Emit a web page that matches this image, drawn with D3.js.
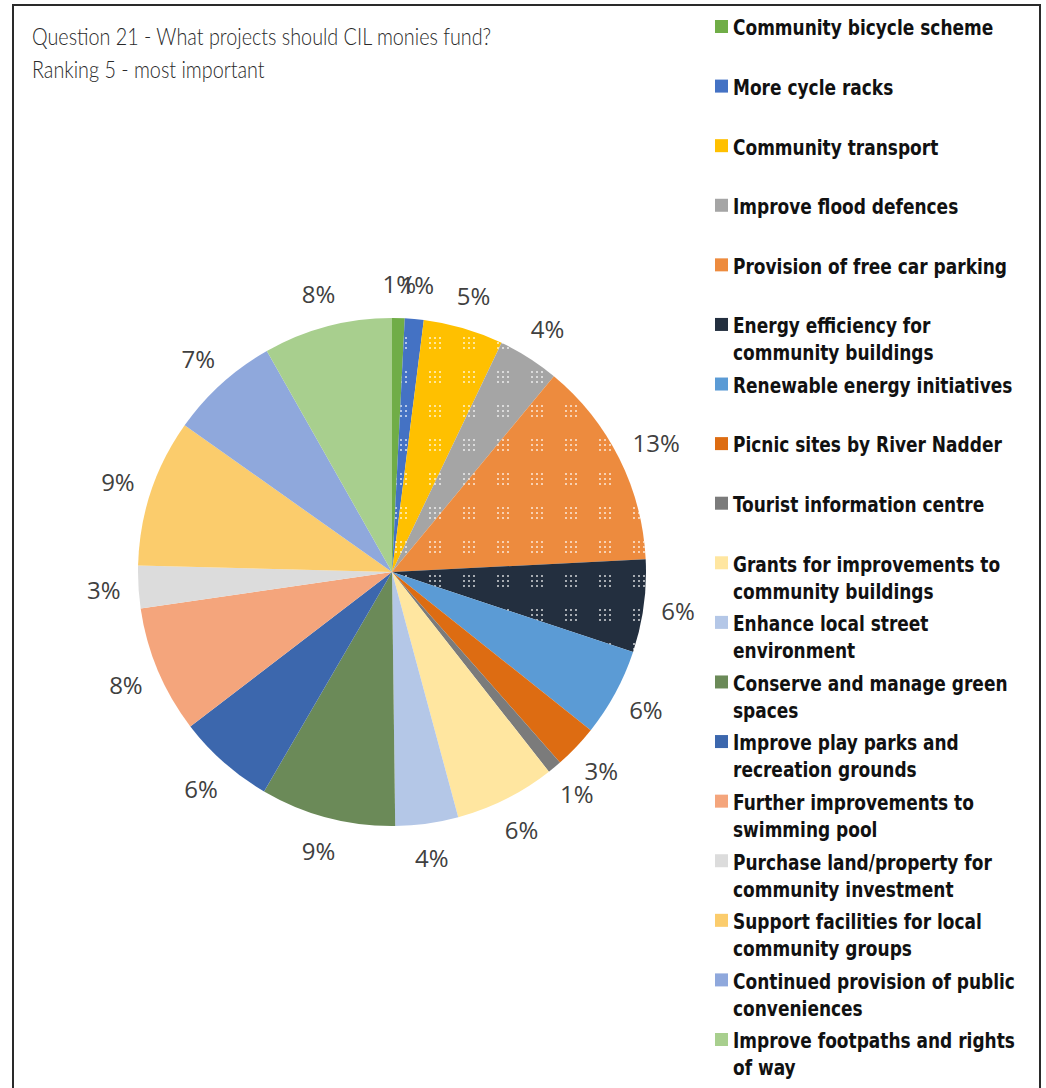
<!DOCTYPE html>
<html>
<head>
<meta charset="utf-8">
<script src="https://cdn.jsdelivr.net/npm/d3@7"></script>
<style>
  body { margin: 0; background: #fff; }
  .legend text { font-family: "DejaVu Sans", "Open Sans", sans-serif; font-stretch: condensed; font-weight: bold; fill: #111; }
  .pct { font-family: "Open Sans", sans-serif; fill: #404040; }
  .title { font-family: "Lato", sans-serif; font-weight: 300; fill: #2a2a2a; }
</style>
</head>
<body>
<div class="chart"></div>
<script>
// slice order = clockwise from 12 o'clock, as in the original chart
const categories = [
  "Community bicycle scheme",
  "More cycle racks",
  "Community transport",
  "Improve flood defences",
  "Provision of free car parking",
  "Energy efficiency for community buildings",
  "Renewable energy initiatives",
  "Picnic sites by River Nadder",
  "Tourist information centre",
  "Grants for improvements to community buildings",
  "Enhance local street environment",
  "Conserve and manage green spaces",
  "Improve play parks and recreation grounds",
  "Further improvements to swimming pool",
  "Purchase land/property for community investment",
  "Support facilities for local community groups",
  "Continued provision of public conveniences",
  "Improve footpaths and rights of way"
];

// share of responses (%); labels round to the printed %
const values = [0.8, 1.2, 5.1, 3.9, 13.2, 5.9, 5.6, 2.8, 0.9, 6.4, 4.0, 8.6, 6.2, 8.1, 2.7, 9.4, 7.0, 8.2];

const colors = [
  "#70ad47", "#4472c4", "#ffc000", "#a5a5a5", "#ed8b3e", "#232f3f",
  "#5b9bd5", "#dd6c12", "#7b7b7b", "#ffe6a0", "#b4c7e7", "#6b8a58",
  "#3c67ad", "#f4a57c", "#dcdcdc", "#fbcc6c", "#8fa8dc", "#a8cf8e"
];

// slices that carry the dotted fill in the original
const dotted = [false, true, true, true, true, true, false, false, false,
                false, false, false, false, false, false, false, false, false];

const titleLines = ["Question 21 - What projects should CIL monies fund?", "Ranking 5 - most important"];

const width = 1046, height = 1088;
const cx = 392, cy = 572, radius = 254;

const svg = d3.select(".chart").append("svg")
    .attr("width", width)
    .attr("height", height);

// white dot pattern
const pat = svg.append("defs").append("pattern")
    .attr("id", "dots")
    .attr("patternUnits", "userSpaceOnUse")
    .attr("width", 34).attr("height", 34);
d3.range(9).forEach(k => {
    pat.append("circle")
        .attr("cx", 4 + (k % 3) * 5)
        .attr("cy", 4 + Math.floor(k / 3) * 5)
        .attr("r", 1)
        .attr("fill", "#fff")
        .attr("opacity", 0.8);
});

// frame
svg.append("rect")
    .attr("x", 13).attr("y", 5)
    .attr("width", 1027).attr("height", 1100)
    .attr("fill", "none")
    .attr("stroke", "#2a2a2a")
    .attr("stroke-width", 2);

// title
svg.append("g").selectAll("text")
    .data(titleLines)
    .join("text")
    .attr("class", "title")
    .attr("transform", (d, i) => `translate(32,${45 + i * 33}) scale(0.86,1)`)
    .attr("font-size", 23)
    .text(d => d);

// pie
const pie = d3.pie().sort(null).value(d => d);
const arc = d3.arc().innerRadius(0).outerRadius(radius);
const arcs = pie(values);

const g = svg.append("g").attr("transform", `translate(${cx},${cy})`);

g.selectAll("path.slice")
    .data(arcs)
    .join("path")
    .attr("class", "slice")
    .attr("d", arc)
    .attr("fill", (d, i) => colors[i]);

g.selectAll("path.dots")
    .data(arcs.filter((d, i) => dotted[i]))
    .join("path")
    .attr("class", "dots")
    .attr("d", arc)
    .attr("fill", "url(#dots)");

// percentage labels, placed just outside the slice (like "outside end")
const fmt = d3.format(".0%");
const gap = 18;
g.selectAll("text.pct")
    .data(arcs)
    .join("text")
    .attr("class", "pct")
    .attr("font-size", 24)
    .attr("text-anchor", "middle")
    .attr("dominant-baseline", "central")
    .text(d => fmt(d.data / 100))
    .each(function (d) {
        const a = (d.startAngle + d.endAngle) / 2;
        const ux = Math.sin(a), uy = -Math.cos(a);
        const box = this.getBBox();
        const x = (radius + gap) * ux + ux * box.width / 2;
        const y = (radius + gap) * uy + uy * box.height / 2;
        d3.select(this).attr("x", x).attr("y", y);
    });

// legend
function wrap(s, maxChars) {
    const words = s.split(" ");
    const lines = [];
    let line = "";
    words.forEach(w => {
        const t = line ? line + " " + w : w;
        if (t.length > maxChars && line) { lines.push(line); line = w; }
        else line = t;
    });
    lines.push(line);
    return lines;
}

const legendY = d3.scalePoint().domain(categories).range([28, 1041]);

const legend = svg.append("g").attr("class", "legend");
const item = legend.selectAll("g")
    .data(categories)
    .join("g")
    .attr("transform", d => `translate(715,${legendY(d)})`);

item.append("rect")
    .attr("x", 0).attr("y", -8)
    .attr("width", 13).attr("height", 13)
    .attr("fill", (d, i) => colors[i]);

item.append("text")
    .attr("font-size", 21)
    .attr("transform", "translate(18,0) scale(0.9,1)")
    .selectAll("tspan")
    .data(d => wrap(d, 29))
    .join("tspan")
    .attr("x", 0)
    .attr("y", (d, i) => i * 27)
    .attr("dy", "0.35em")
    .text(d => d);
</script>
</body>
</html>
